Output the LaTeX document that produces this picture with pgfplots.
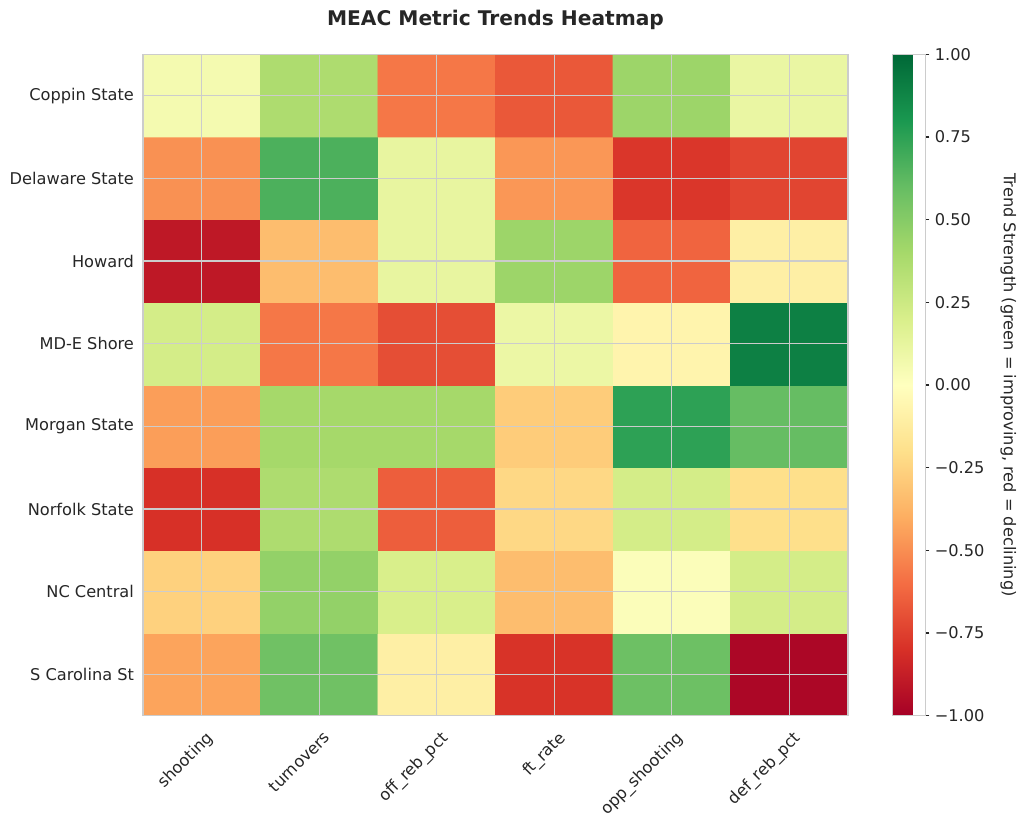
\documentclass[border=0pt]{standalone}
\usepackage{pgfplots}
\pgfplotsset{compat=1.18}
\usepackage{pgfplotstable}
\usepackage{fontspec}
\setmainfont{DejaVu Sans}
\definecolor{txt}{HTML}{262626}
\definecolor{gridc}{HTML}{CCCCCC}

% x = metric, y = team (0 = S Carolina St at bottom), z = trend strength
\pgfplotstableread{
x y z
0 0 -0.43
1 0 0.57
2 0 -0.10
3 0 -0.79
4 0 0.58
5 0 -0.97
0 1 -0.26
1 1 0.46
2 1 0.20
3 1 -0.34
4 1 0.02
5 1 0.22
0 2 -0.80
1 2 0.37
2 2 -0.65
3 2 -0.23
4 2 0.22
5 2 -0.20
0 3 -0.45
1 3 0.40
2 3 0.40
3 3 -0.28
4 3 0.75
5 3 0.60
0 4 0.22
1 4 -0.57
2 4 -0.70
3 4 0.10
4 4 -0.07
5 4 0.90
0 5 -0.90
1 5 -0.34
2 5 0.12
3 5 0.43
4 5 -0.63
5 5 -0.10
0 6 -0.49
1 6 0.67
2 6 0.12
3 6 -0.47
4 6 -0.78
5 6 -0.73
0 7 0.06
1 7 0.37
2 7 -0.57
3 7 -0.67
4 7 0.43
5 7 0.11
}\heat

\begin{document}
\begin{tikzpicture}[font=\fontsize{11.7}{14}\selectfont]
\useasboundingbox (-102.96bp,-77.98bp) rectangle (634.32bp,515.3bp);
\begin{axis}[
    at={(0,0)}, anchor=south west,
    scale only axis, width=507.6bp, height=476.2bp,
    xmin=-0.5, xmax=5.5, ymin=-0.5, ymax=7.5,
    xtick={0,...,5}, ytick={0,...,7},
    xticklabels={shooting,turnovers,off\_reb\_pct,ft\_rate,opp\_shooting,def\_reb\_pct},
    yticklabels={S Carolina St,NC Central,Norfolk State,Morgan State,MD-E Shore,Howard,Delaware State,Coppin State},
    major tick length=0pt,
    tick label style={text=txt},
    xticklabel style={rotate=45, anchor=north east, inner sep=0pt, yshift=-9bp, xshift=-5.5bp},
    yticklabel style={xshift=-3bp},
    grid=major, grid style={gridc, line width=1bp},
    axis line style={gridc, line width=1bp},
    axis on top,
    colormap={RdYlGn}{rgb255=(165,0,38) rgb255=(215,48,39) rgb255=(244,109,67)
      rgb255=(253,174,97) rgb255=(254,224,139) rgb255=(255,255,191)
      rgb255=(217,239,139) rgb255=(166,217,106) rgb255=(102,189,99)
      rgb255=(26,152,80) rgb255=(0,104,55)},
    point meta min=-1, point meta max=1,
    colorbar,
    colorbar style={
      at={(parent axis.north east)}, anchor=north west, xshift=23.7bp,
      scale only axis, width=23.8bp, height=476.2bp,
      ytick={-1,-0.75,-0.5,-0.25,0,0.25,0.5,0.75,1},
      yticklabels={−1.00,−0.75,−0.50,−0.25,0.00,0.25,0.50,0.75,1.00},
      yticklabel pos=right, ytick pos=right, tick align=outside,
      major tick length=2.5bp, tick style={txt, line width=0.8bp},
      axis line style={gridc, line width=0.8bp},
      tick label style={text=txt, font=\fontsize{11.7}{14}\selectfont},
      yticklabel style={xshift=0.5bp},
      ylabel near ticks,
      ylabel={Trend Strength (green = improving, red = declining)},
      ylabel style={rotate=180, text=txt, font=\fontsize{11.7}{14}\selectfont, inner sep=8bp},
    },
    title={MEAC Metric Trends Heatmap},
    title style={font=\fontsize{14.6}{17}\selectfont\bfseries, text=txt, at={(0.5,1)}, anchor=base, yshift=14.6bp},
]
\addplot[matrix plot*, mesh/cols=6, point meta=explicit] table[meta=z] {\heat};
\end{axis}
\end{tikzpicture}
\end{document}
